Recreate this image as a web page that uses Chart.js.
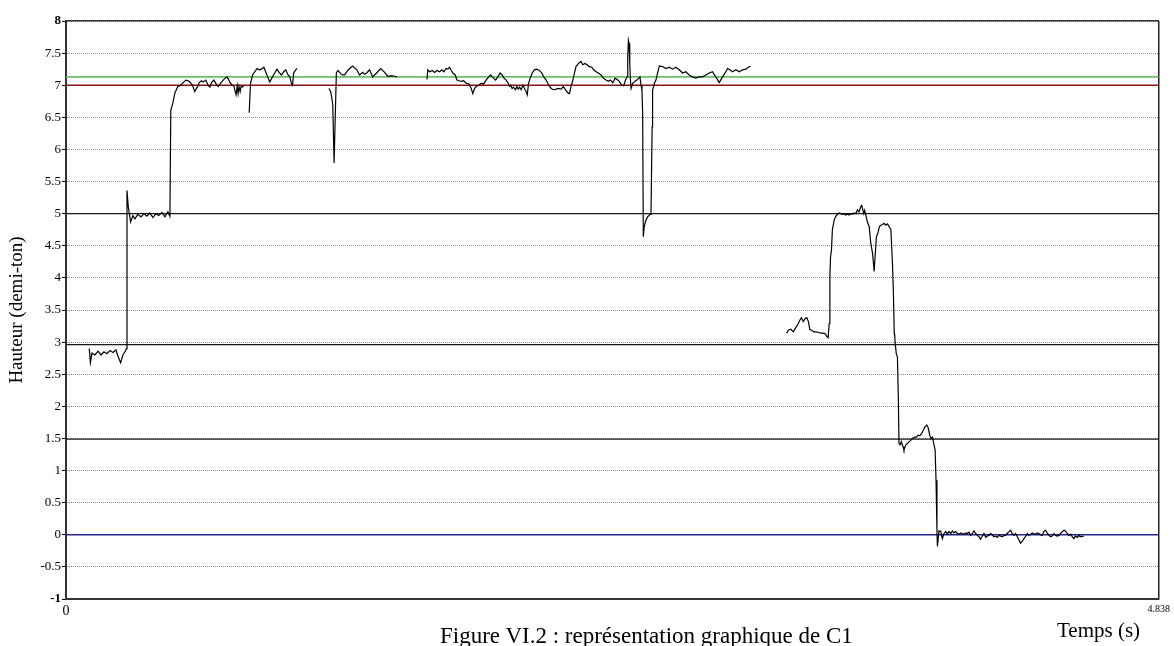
<!DOCTYPE html>
<html lang="fr">
<head>
<meta charset="utf-8">
<title>Figure VI.2 : représentation graphique de C1</title>
<script src="https://cdn.jsdelivr.net/npm/chart.js@4/dist/chart.umd.min.js"></script>
<style>
    html, body { margin: 0; padding: 0; background: #fff; overflow: hidden; }
    #cadre { position: relative; width: 1174px; height: 646px; overflow: hidden; }
    #graphe { position: absolute; left: 0; top: 0; }
    .texte { position: absolute; font-family: "Liberation Serif", "Times New Roman", serif; color: #000; white-space: nowrap; }
    #titreX { left: 1057px; top: 620px; font-size: 21px; line-height: 21px; }
    #legende { left: 440px; top: 624px; font-size: 23px; line-height: 23px; }
</style>
</head>
<body>
<div id="cadre">
    <canvas id="graphe" width="1174" height="646"></canvas>
    <div class="texte" id="titreX">Temps (s)</div>
    <div class="texte" id="legende">Figure VI.2 : représentation graphique de C1</div>
</div>
<script>

// Temps (s) de chaque point de la courbe ; un null dans hauteur coupe la ligne.
var temps = [
    0.103, 0.108, 0.115, 0.128, 0.142, 0.155, 0.168, 0.181, 0.195, 0.208, 0.221, 0.230, 0.242, 0.252, 0.263, 0.267,
    0.270, 0.276, 0.286, 0.296, 0.305, 0.318, 0.332, 0.345, 0.358, 0.371, 0.385, 0.398, 0.411, 0.425, 0.438, 0.451, 0.460,
    0.464, 0.473, 0.482, 0.495, 0.504, 0.519, 0.531, 0.541, 0.548, 0.560, 0.570, 0.581, 0.590, 0.600, 0.607, 0.619,
    0.629, 0.637, 0.644, 0.655, 0.663, 0.674, 0.684, 0.696, 0.705, 0.713, 0.721, 0.728, 0.737, 0.743, 0.749, 0.753,
    0.758, 0.762, 0.766, 0.771, 0.775, 0.781, 0.787, 0.795,
    0.811, 0.817, 0.826, 0.836, 0.846, 0.855, 0.865, 0.876, 0.884, 0.895, 0.902, 0.914, 0.924, 0.934, 0.943, 0.954,
    0.964, 0.973, 0.983, 0.991, 0.998, 1.003, 1.008, 1.017, 1.023, 1.090,
    1.164, 1.172, 1.176, 1.181, 1.187, 1.192, 1.197, 1.204, 1.216, 1.225, 1.234, 1.245, 1.256, 1.269, 1.287, 1.300,
    1.313, 1.322, 1.331, 1.344, 1.358, 1.366, 1.375, 1.393, 1.411, 1.424, 1.442, 1.455, 1.465, 1.530,
    1.598, 1.602, 1.610, 1.622, 1.632, 1.642, 1.654, 1.664, 1.673, 1.683, 1.691, 1.698, 1.706, 1.713, 1.723, 1.731,
    1.739, 1.750, 1.760, 1.772, 1.784, 1.794, 1.801, 1.809, 1.816, 1.826, 1.838, 1.849, 1.860, 1.871, 1.880, 1.887,
    1.893, 1.902, 1.912, 1.922, 1.931, 1.939, 1.949, 1.958, 1.964, 1.969, 1.975, 1.981, 1.990, 1.996, 2.002, 2.008,
    2.015, 2.023, 2.030, 2.037, 2.042, 2.048, 2.055, 2.064, 2.074, 2.084, 2.096, 2.107, 2.115, 2.126, 2.137, 2.148,
    2.158, 2.170, 2.180, 2.192, 2.202, 2.211, 2.222, 2.229, 2.236, 2.244, 2.251, 2.258, 2.269, 2.280, 2.288, 2.298,
    2.307, 2.317, 2.328, 2.336, 2.347, 2.357, 2.369, 2.379, 2.391, 2.401, 2.410, 2.421, 2.431, 2.440, 2.450, 2.460,
    2.469, 2.477, 2.484, 2.487, 2.490, 2.493, 2.496, 2.499, 2.502, 2.509, 2.518, 2.527, 2.536, 2.541, 2.546, 2.550,
    2.553, 2.556, 2.560, 2.568, 2.575, 2.586, 2.590, 2.595, 2.597, 2.605, 2.612, 2.619, 2.627, 2.641, 2.656, 2.671,
    2.686, 2.700, 2.715, 2.730, 2.744, 2.759, 2.774, 2.789, 2.803, 2.818, 2.833, 2.848, 2.862, 2.877, 2.892, 2.907,
    2.921, 2.929, 2.939, 2.951, 2.966, 2.981, 2.995, 3.010, 3.025, 3.028, 3.100,
    3.190, 3.199, 3.209, 3.220, 3.228, 3.239, 3.249, 3.256, 3.264, 3.273, 3.280, 3.287, 3.293, 3.302, 3.312, 3.323,
    3.332, 3.342, 3.352, 3.361, 3.368, 3.374, 3.379, 3.382, 3.385, 3.389, 3.393, 3.401, 3.408, 3.416, 3.423, 3.430,
    3.438, 3.445, 3.452, 3.460, 3.467, 3.475, 3.482, 3.489, 3.497, 3.504, 3.511, 3.519, 3.523, 3.528, 3.532, 3.536,
    3.541, 3.548, 3.556, 3.563, 3.571, 3.578, 3.582, 3.588, 3.594, 3.601, 3.608, 3.615, 3.622, 3.629, 3.637, 3.644,
    3.652, 3.659, 3.663, 3.667, 3.669, 3.671, 3.676, 3.681, 3.685, 3.688, 3.693, 3.698, 3.706, 3.710, 3.718, 3.725,
    3.733, 3.740, 3.747, 3.758, 3.765, 3.772, 3.780, 3.787, 3.796, 3.803, 3.811, 3.817, 3.824, 3.830, 3.836, 3.843,
    3.848, 3.852, 3.856, 3.858,
    3.865, 3.873, 3.880, 3.887, 3.895, 3.902, 3.909, 3.917, 3.924, 3.931, 3.939, 3.946, 3.954, 3.961, 3.968, 3.976,
    3.983, 3.990, 3.998, 4.005, 4.013, 4.020, 4.027, 4.035, 4.042, 4.049, 4.057, 4.064, 4.072, 4.079, 4.086, 4.094,
    4.101, 4.108, 4.116, 4.123, 4.130, 4.138, 4.145, 4.153, 4.160, 4.167, 4.175, 4.182, 4.189, 4.197, 4.204, 4.212,
    4.219, 4.226, 4.234, 4.241, 4.248, 4.256, 4.263, 4.271, 4.278, 4.285, 4.293, 4.300, 4.307, 4.315, 4.322, 4.329,
    4.337, 4.344, 4.352, 4.359, 4.366, 4.374, 4.381, 4.388, 4.396, 4.403, 4.411, 4.418, 4.425, 4.433, 4.440, 4.447,
    4.455, 4.462, 4.469, 4.477, 4.484, 4.491, 4.499, 4.506
];

// Hauteur (demi-ton) mesurée, même ordre que temps.
var hauteur = [
    2.90, 2.68, 2.83, 2.80, 2.86, 2.80, 2.85, 2.82, 2.87, 2.84, 2.88, 2.78, 2.68, 2.80, 2.86, 2.90,
    5.36, 5.10, 4.87, 4.97, 4.92, 4.99, 4.95, 5.00, 4.96, 5.01, 4.94, 5.00, 4.97, 5.02, 4.95, 5.03, 4.96,
    6.61, 6.72, 6.88, 6.98, 6.99, 7.04, 7.08, 7.07, 7.05, 7.00, 6.90, 6.97, 7.04, 7.07, 7.05, 7.08,
    7.00, 6.97, 7.04, 7.08, 7.03, 6.98, 7.03, 7.08, 7.11, 7.13, 7.08, 7.03, 7.00, 6.99, 6.90, 6.85,
    6.99, 6.87, 6.98, 6.90, 6.98, 6.97, 6.99, null,
    6.57, 7.03, 7.16, 7.21, 7.26, 7.24, 7.25, 7.28, 7.21, 7.11, 7.05, 7.13, 7.19, 7.25, 7.20, 7.16,
    7.21, 7.24, 7.16, 7.13, 7.03, 7.00, 7.19, 7.24, 7.26, null,
    6.95, 6.90, 6.82, 6.70, 5.79, 6.50, 7.19, 7.23, 7.18, 7.16, 7.16, 7.22, 7.26, 7.30, 7.24, 7.16,
    7.20, 7.17, 7.19, 7.24, 7.13, 7.16, 7.19, 7.26, 7.20, 7.14, 7.15, 7.14, 7.13, null,
    7.09, 7.24, 7.21, 7.23, 7.20, 7.23, 7.21, 7.24, 7.21, 7.26, 7.25, 7.28, 7.23, 7.19, 7.16, 7.08,
    7.07, 7.06, 7.07, 7.03, 7.02, 6.95, 6.87, 6.95, 6.98, 7.00, 7.03, 7.02, 7.08, 7.13, 7.16, 7.13,
    7.11, 7.08, 7.13, 7.19, 7.16, 7.11, 7.08, 7.03, 6.98, 7.00, 6.95, 6.97, 6.93, 6.98, 6.94, 6.97,
    6.93, 7.00, 6.95, 6.90, 6.85, 7.03, 7.11, 7.19, 7.24, 7.25, 7.23, 7.19, 7.13, 7.08, 7.00, 6.95,
    6.93, 6.94, 6.95, 6.94, 6.98, 6.93, 6.88, 6.87, 6.98, 7.08, 7.19, 7.29, 7.34, 7.37, 7.32, 7.34,
    7.32, 7.29, 7.28, 7.24, 7.21, 7.19, 7.16, 7.11, 7.08, 7.06, 7.08, 7.04, 7.11, 7.09, 7.06, 7.00,
    6.99, 7.08, 7.13, 7.44, 7.70, 7.65, 7.34, 7.08, 6.95, 7.03, 7.06, 7.08, 7.11, 7.13, 7.00, 6.92,
    6.57, 4.64, 4.80, 4.90, 4.95, 4.99, 5.00, 6.35, 6.92, 7.03, 7.08, 7.19, 7.30, 7.29, 7.26, 7.28,
    7.25, 7.28, 7.24, 7.19, 7.21, 7.16, 7.13, 7.11, 7.13, 7.13, 7.16, 7.19, 7.21, 7.13, 7.04, 7.13,
    7.21, 7.26, 7.24, 7.21, 7.24, 7.21, 7.24, 7.25, 7.29, 7.30, null,
    3.14, 3.19, 3.20, 3.16, 3.21, 3.27, 3.34, 3.38, 3.32, 3.37, 3.38, 3.32, 3.20, 3.18, 3.16, 3.16,
    3.15, 3.14, 3.14, 3.13, 3.09, 3.07, 3.29, 4.02, 4.33, 4.43, 4.75, 4.90, 4.96, 4.99, 5.01, 5.00,
    4.99, 5.00, 4.98, 4.99, 4.98, 5.00, 4.99, 5.01, 5.00, 5.06, 5.03, 5.11, 5.13, 5.06, 5.00, 5.05,
    4.98, 4.87, 4.80, 4.54, 4.38, 4.10, 4.33, 4.64, 4.69, 4.80, 4.82, 4.83, 4.85, 4.82, 4.84, 4.80,
    4.75, 4.23, 3.80, 3.13, 3.10, 2.98, 2.82, 2.77, 2.15, 1.42, 1.40, 1.45, 1.37, 1.32, 1.40, 1.42,
    1.45, 1.47, 1.50, 1.52, 1.52, 1.55, 1.54, 1.57, 1.63, 1.68, 1.71, 1.67, 1.55, 1.50, 1.52, 1.40,
    1.32, 0.85, 0.07, -0.18,
    0.06, 0.05, -0.06, 0.02, 0.05, 0.01, 0.05, 0.02, 0.06, 0.03, 0.05, 0.02, 0.01, 0.03, 0.02, 0.01,
    0.03, 0.02, 0.04, -0.01, 0.02, 0.06, 0.02, -0.01, -0.03, -0.07, -0.02, 0.02, -0.04, -0.02, -0.01, 0.02,
    0.00, -0.03, -0.02, -0.04, -0.01, -0.02, -0.03, -0.01, -0.01, 0.02, 0.05, 0.07, 0.02, -0.01, 0.02, -0.03,
    -0.08, -0.13, -0.10, -0.06, -0.03, 0.02, -0.01, 0.01, 0.03, 0.02, 0.01, 0.03, 0.02, 0.00, -0.01, 0.05,
    0.07, 0.03, -0.01, -0.03, -0.02, 0.02, -0.01, -0.02, -0.01, 0.02, 0.05, 0.07, 0.06, 0.02, -0.01, 0.01,
    -0.03, -0.06, -0.02, -0.04, -0.01, -0.03, -0.02, -0.03
];

// Niveaux de référence tracés en travers du graphique (demi-tons).
var niveauxRef = [7.13, 7, 5, 2.96, 1.49, 0];

// Bornes et graduations des axes.
var tempsMax = 4.838;
var graduationsX = [0, 4.838];
var hauteurMin = -1;
var hauteurMax = 8;
var pasHauteur = 0.5;

document.addEventListener("DOMContentLoaded", function () {
    var canvas = document.getElementById("graphe");
    if (!canvas) return;

    var police = "Liberation Serif";

    // Style de chaque niveau de référence, dans l'ordre de niveauxRef.
    var stylesRef = [
        { couleur: "#6cbf6c", epaisseur: 1.6, tirets: [] },
        { couleur: "#8b1010", epaisseur: 1.5, tirets: [] },
        { couleur: "#1a1a1a", epaisseur: 1.3, tirets: [] },
        { couleur: "#1a1a1a", epaisseur: 1.3, tirets: [] },
        { couleur: "#1a1a1a", epaisseur: 1.3, tirets: [] },
        { couleur: "#24248c", epaisseur: 1.5, tirets: [] }
    ];

    var points = temps.map(function (t, i) {
        return { x: t, y: hauteur[i] };
    });

    var jeux = [
        {
            label: "Hauteur",
            data: points,
            borderColor: "#000",
            borderWidth: 1.2,
            pointRadius: 0,
            tension: 0,
            spanGaps: false
        }
    ];

    niveauxRef.forEach(function (v, i) {
        var s = stylesRef[i];
        jeux.push({
            label: "Référence " + v,
            data: [{ x: 0, y: v }, { x: tempsMax, y: v }],
            borderColor: s.couleur,
            borderWidth: s.epaisseur,
            borderDash: s.tirets,
            pointRadius: 0,
            tension: 0
        });
    });

    new Chart(canvas, {
        type: "line",
        data: { datasets: jeux },
        options: {
            responsive: false,
            animation: false,
            events: [],
            layout: { padding: { top: 21, right: 14, bottom: 0, left: 0 } },
            plugins: {
                legend: { display: false },
                tooltip: { enabled: false }
            },
            scales: {
                x: {
                    type: "linear",
                    position: "bottom",
                    min: 0,
                    max: tempsMax,
                    afterBuildTicks: function (s) {
                        s.ticks = graduationsX.map(function (v) { return { value: v }; });
                    },
                    afterFit: function (s) { s.height = 47; },
                    ticks: {
                        autoSkip: false,
                        maxRotation: 0,
                        padding: 4,
                        color: "#000",
                        // Le 0 est écrit plus grand que la borne de droite.
                        font: function (ctx) {
                            var v = ctx.tick ? ctx.tick.value : 0;
                            return { family: police, size: v === 0 ? 14 : 10 };
                        },
                        callback: function (v) { return String(v); }
                    },
                    grid: { color: "#222", lineWidth: 1.5, drawTicks: false, tickLength: 0 },
                    border: { display: true, color: "#333", width: 2 }
                },
                xHaut: {
                    type: "linear",
                    position: "top",
                    min: 0,
                    max: tempsMax,
                    ticks: { display: false },
                    grid: { display: false, drawTicks: false },
                    border: { display: true, color: "#333", width: 1.5 },
                    afterFit: function (s) { s.height = 0; }
                },
                y: {
                    min: hauteurMin,
                    max: hauteurMax,
                    afterFit: function (s) { s.width = 66; },
                    ticks: {
                        stepSize: pasHauteur,
                        autoSkip: false,
                        padding: 1,
                        color: "#000",
                        font: function (ctx) {
                            var v = ctx.tick ? ctx.tick.value : 0;
                            var gras = v === hauteurMin || v === hauteurMax;
                            return { family: police, size: 13, weight: gras ? "bold" : "normal" };
                        },
                        callback: function (v) { return String(v); }
                    },
                    title: {
                        display: true,
                        text: "Hauteur (demi-ton)",
                        color: "#000",
                        font: { family: police, size: 19 },
                        padding: { top: 6, bottom: 0 }
                    },
                    grid: { color: "#8c8c8c", lineWidth: 1, tickColor: "#000", tickLength: 4 },
                    border: { display: true, color: "#333", width: 2, dash: [1, 1] }
                }
            }
        }
    });
});
</script>
</body>
</html>
